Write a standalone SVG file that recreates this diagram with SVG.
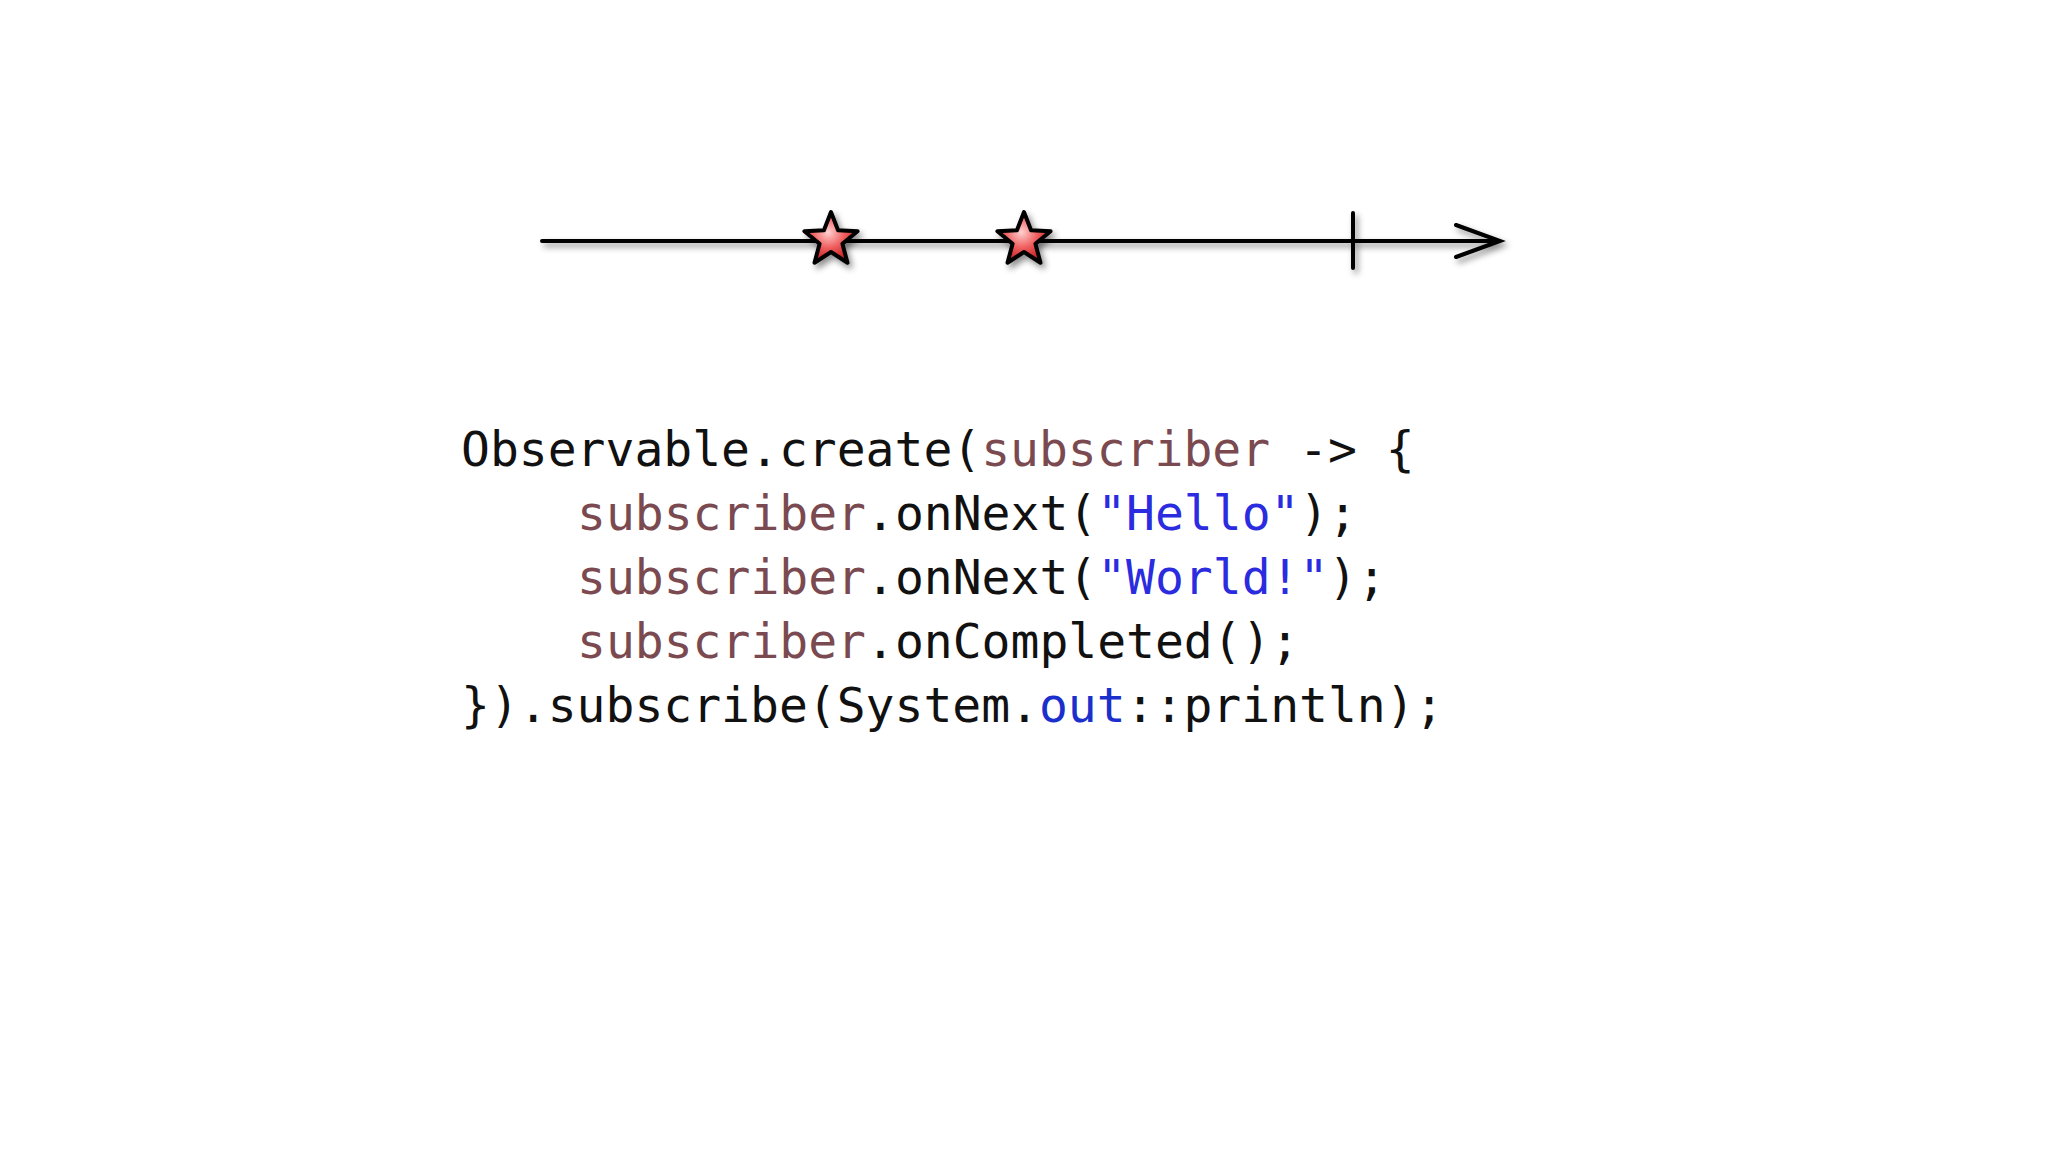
<svg xmlns="http://www.w3.org/2000/svg" width="2048" height="1152" viewBox="0 0 2048 1152">
<defs>
<radialGradient id="g" cx="0.45" cy="0.4" r="0.6"><stop offset="0" stop-color="#ffd0d0"/><stop offset="0.5" stop-color="#f06060"/><stop offset="1" stop-color="#c01818"/></radialGradient>
<filter id="sh" x="-50%" y="-50%" width="200%" height="200%"><feDropShadow dx="3" dy="4" stdDeviation="3" flood-opacity="0.45"/></filter>
<path id="star" d="M0,-28 L7.05,-9.7 L26.6,-8.7 L11.4,3.7 L16.5,22.7 L0,12 L-16.5,22.7 L-11.4,3.7 L-26.6,-8.7 L-7.05,-9.7 Z" fill="url(#g)" stroke="#000" stroke-width="4" stroke-linejoin="round" filter="url(#sh)"/>
</defs>
<style>
.c{font-family:"DejaVu Sans Mono","Liberation Mono",monospace;font-size:48px;fill:#111}
.s{fill:#7a4a50}.q{fill:#2b2be0}.o{fill:#1b2fcc}
.ln{stroke:#000;stroke-width:4;fill:none;stroke-linecap:round;filter:url(#sh)}
</style>
<rect width="2048" height="1152" fill="#fff"/>
<g id="connectors">
<path class="ln" d="M542,241 L1500,241 M1456,225 L1500,241 L1456,257 M1353,213 L1353,268"/>
</g>
<g id="star1"><use href="#star" x="831" y="240"/></g>
<g id="star2"><use href="#star" x="1024" y="240"/></g>
<g id="code">
<text class="c" x="461" y="466">Observable.create(<tspan class="s">subscriber</tspan> -&gt; {</text>
<text class="c" x="577" y="530"><tspan class="s">subscriber</tspan>.onNext(<tspan class="q">"Hello"</tspan>);</text>
<text class="c" x="577" y="594"><tspan class="s">subscriber</tspan>.onNext(<tspan class="q">"World!"</tspan>);</text>
<text class="c" x="577" y="658"><tspan class="s">subscriber</tspan>.onCompleted();</text>
<text class="c" x="461" y="722">}).subscribe(System.<tspan class="o">out</tspan>::println);</text>
</g>
</svg>
